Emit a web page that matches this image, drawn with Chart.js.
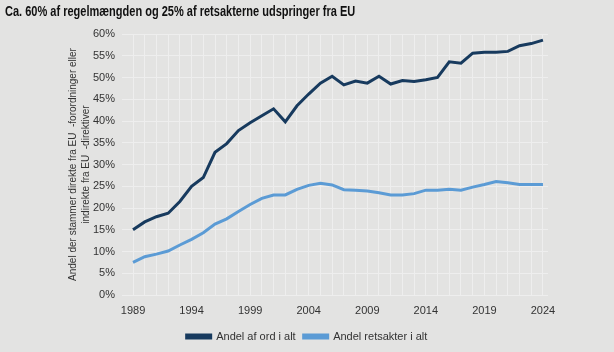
<!DOCTYPE html>
<html>
<head>
<meta charset="utf-8">
<script src="https://cdn.jsdelivr.net/npm/chart.js@4"></script>
<style>
  html, body { margin: 0; padding: 0; background: #e3e3e2; }
  #wrap { position: relative; width: 614px; height: 352px; }
  #title {
    position: absolute; left: 5px; top: 3px; white-space: nowrap;
    font-family: "Liberation Sans", Arial, sans-serif;
    font-weight: bold; font-size: 14px; color: #111;
    transform: scaleX(0.787); transform-origin: left top;
  }
  canvas { position: absolute; left: 0; top: 0; }
</style>
</head>
<body>
<div id="wrap">
  <canvas id="chart" width="614" height="352"></canvas>
  <div id="title">Ca. 60% af regelmængden og 25% af retsakterne udspringer fra EU</div>
</div>
<script>
// years on the x axis
const years = [];
for (let y = 1989; y <= 2024; y++) years.push(y);

// share of words (%)
const andelOrd = [15.0, 16.8, 18.0, 18.8, 21.5, 25.0, 27.0, 32.8, 34.8, 37.8,
                  39.6, 41.2, 42.8, 39.8, 43.5, 46.2, 48.7, 50.3, 48.3, 49.2,
                  48.7, 50.3, 48.5, 49.3, 49.1, 49.5, 50.0, 53.6, 53.3, 55.6,
                  55.8, 55.8, 56.0, 57.3, 57.8, 58.6];

// share of legal acts (%)
const andelRetsakter = [7.5, 8.8, 9.4, 10.1, 11.5, 12.8, 14.3, 16.3, 17.5, 19.2,
                        20.8, 22.2, 23.0, 23.0, 24.3, 25.2, 25.7, 25.3, 24.2, 24.1,
                        23.9, 23.5, 23.0, 23.0, 23.3, 24.1, 24.1, 24.3, 24.1, 24.8,
                        25.4, 26.1, 25.8, 25.4, 25.4, 25.4];

const seriesNames = ["Andel af ord i alt", "Andel retsakter i alt"];
const yTitle = ["Andel der stammer direkte fra EU  -forordninger eller", "indirekte fra EU  -direktiver"];
const xLabelEvery = 5;

const fontFam = "'Liberation Sans', Arial, sans-serif";
const txt = "#333333";

function toPoints(vals) {
  return vals.map((v, i) => ({ x: years[i], y: v }));
}

const config = {
  type: 'line',
  data: {
    datasets: [
      {
        label: seriesNames[0],
        data: toPoints(andelOrd),
        borderColor: '#173a5e',
        backgroundColor: '#173a5e',
        borderWidth: 3,
        pointRadius: 0,
        tension: 0
      },
      {
        label: seriesNames[1],
        data: toPoints(andelRetsakter),
        borderColor: '#5b9bd5',
        backgroundColor: '#5b9bd5',
        borderWidth: 3,
        pointRadius: 0,
        tension: 0
      }
    ]
  },
  options: {
    responsive: false,
    animation: false,
    layout: { padding: { left: 66, right: 66, top: 34, bottom: 0 } },
    plugins: {
      legend: {
        position: 'bottom',
        labels: {
          boxWidth: 24,
          boxHeight: 3,
          padding: 8,
          color: txt,
          font: { family: fontFam, size: 11 }
        }
      },
      tooltip: { enabled: false }
    },
    scales: {
      x: {
        type: 'linear',
        min: 1988.06,
        max: 2024.43,
        grid: { color: '#eeeeee', lineWidth: 1, drawTicks: false },
        border: { display: false },
        afterBuildTicks: function(s) {
          s.ticks = years.map(y => ({ value: y }));
        },
        ticks: {
          autoSkip: false,
          padding: 9,
          maxRotation: 0,
          color: txt,
          font: { family: fontFam, size: 11 },
          callback: function(v) {
            if ((v - years[0]) % xLabelEvery === 0) return String(v);
            return '';
          }
        },
        afterFit: function(s) { s.height = 28; }
      },
      y: {
        min: 0,
        max: 60,
        grid: { color: '#eeeeee', lineWidth: 1, drawTicks: false },
        border: { display: false },
        ticks: {
          stepSize: 5,
          padding: 7,
          color: txt,
          font: { family: fontFam, size: 11 },
          callback: v => v + '%'
        },
        title: {
          display: true,
          text: yTitle,
          color: txt,
          padding: 0,
          font: { family: fontFam, size: 10, lineHeight: 1.35 }
        },
        afterFit: function(s) { s.width = 56; }
      }
    }
  }
};

const ctx = document.getElementById("chart");
const lineChart = new Chart(ctx, config);
</script>
</body>
</html>
